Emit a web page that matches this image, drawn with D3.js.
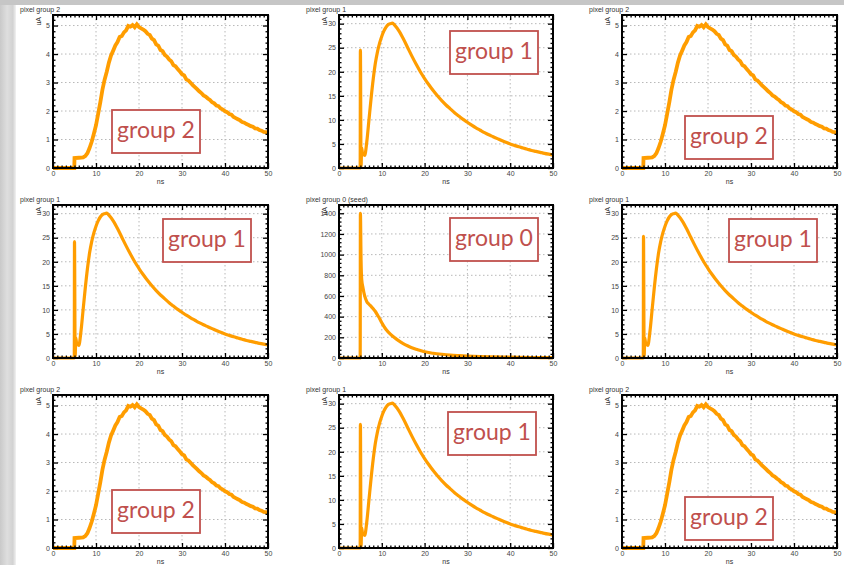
<!DOCTYPE html>
<html>
<head>
<meta charset="utf-8">
<title>pixel groups</title>
<style>
  body { margin: 0; background: #fff; }
  svg { display: block; }
</style>
</head>
<body>
<svg width="844" height="565"></svg>
<script src="https://cdn.jsdelivr.net/npm/d3@7"></script>
<script>
// ---- data ----
// group 2 (noisy histogram)
const g2Ns = [0, 4.95, 5, 6, 7, 7.5, 8, 8.5, 9, 9.5, 10, 10.5, 11, 11.5, 12, 12.5, 13, 13.5, 14, 14.5,
  15, 15.5, 16, 16.5, 17, 17.5, 18, 18.5, 19, 19.5, 20, 20.5, 21, 21.5, 22, 22.5, 23, 23.5, 24, 24.5,
  25, 25.5, 26, 26.5, 27, 27.5, 28, 28.5, 29, 29.5, 30, 30.5, 31, 31.5, 32, 32.5, 33, 33.5, 34, 34.5,
  35, 35.5, 36, 36.5, 37, 37.5, 38, 38.5, 39, 39.5, 40, 40.5, 41, 41.5, 42, 42.5, 43, 43.5, 44, 44.5,
  45, 45.5, 46, 46.5, 47, 47.5, 48, 48.5, 49, 49.5, 50];
const g2Values = [0, 0, 0.35, 0.36, 0.37, 0.42, 0.52, 0.7, 0.92, 1.2, 1.5, 1.9, 2.3, 2.75, 3.1, 3.38, 3.7, 3.95, 4.12, 4.3,
  4.42, 4.6, 4.63, 4.76, 4.83, 4.99, 4.96, 5.02, 4.94, 5.04, 4.95, 4.9, 4.86, 4.8, 4.71, 4.67, 4.54, 4.49, 4.34, 4.29,
  4.14, 4.1, 3.97, 3.91, 3.81, 3.75, 3.61, 3.57, 3.47, 3.39, 3.29, 3.25, 3.11, 3.07, 2.99, 2.91, 2.84, 2.77, 2.69, 2.63,
  2.55, 2.51, 2.44, 2.39, 2.31, 2.27, 2.19, 2.17, 2.09, 2.05, 1.99, 1.96, 1.89, 1.87, 1.79, 1.75, 1.71, 1.67, 1.61, 1.59,
  1.54, 1.51, 1.47, 1.45, 1.39, 1.38, 1.33, 1.31, 1.27, 1.26, 1.23];

// group 1 (spike value at 5 ns differs per panel)
const g1Ns = [0, 4.95, 5, 5.15, 5.3, 5.5, 6, 6.5, 7, 7.5, 8, 8.5, 9, 9.5, 10, 10.5, 11, 11.5, 12, 12.5,
  13, 14, 15, 16, 17, 18, 19, 20, 21, 22, 23, 24, 25, 26, 27, 28, 29, 30, 31, 32,
  33, 34, 35, 36, 37, 38, 39, 40, 41, 42, 43, 44, 45, 46, 47, 48, 49, 50];
const g1Values = [0, 0, null, 0.3, 4.2, 3.0, 2.6, 5.5, 10, 14.5, 18.5, 21.8, 24.2, 26, 27.4, 28.5, 29.3, 29.8, 30, 30.1,
  29.7, 28.5, 26.9, 25.1, 23.3, 21.6, 20.0, 18.6, 17.3, 16.1, 15.0, 14.0, 13.1, 12.3, 11.5, 10.8, 10.1, 9.5, 8.9, 8.35,
  7.85, 7.35, 6.9, 6.5, 6.1, 5.7, 5.35, 5.0, 4.7, 4.4, 4.15, 3.9, 3.65, 3.45, 3.25, 3.05, 2.87, 2.7];
const g1Spikes = [24.5, 24.2, 25.3, 25.7];

// group 0 (seed)
const g0Ns = [0, 4.95, 5, 5.15, 5.3, 5.6, 6, 6.5, 7, 7.5, 8, 8.5, 9, 9.5, 10, 10.5, 11, 12, 13, 14,
  15, 16, 17, 18, 19, 20, 22, 24, 26, 28, 30, 33, 36, 40, 45, 50];
const g0Values = [0, 0, 1400, 950, 760, 680, 600, 545, 520, 500, 475, 450, 415, 380, 340, 305, 275, 230, 195, 165,
  140, 118, 100, 85, 73, 60, 46, 36, 28, 23, 19, 14, 11, 8, 5, 4];

// axes
const xTicks = [0, 10, 20, 30, 40, 50];
const yTicksG2 = [0, 1, 2, 3, 4, 5];
const yTicksG1 = [0, 5, 10, 15, 20, 25, 30];
const yTicksG0 = [0, 200, 400, 600, 800, 1000, 1200, 1400];

const groupAxis = {
  2: {ticks: yTicksG2, minor: 0.2, max: 5.37},
  1: {ticks: yTicksG1, minor: 1, max: 31.8},
  0: {ticks: yTicksG0, minor: 40, max: 1480}
};

// layout of the 3x3 grid
const colLeft = [53, 339, 622], colRight = [268, 553, 837];
const rowTop = [15, 205, 395], rowBottom = [168, 358, 548];

const panels = [
  {row: 0, col: 0, title: 'pixel group 2', group: 2, box: [112, 110]},
  {row: 0, col: 1, title: 'pixel group 1', group: 1, spike: 0, box: [450, 31]},
  {row: 0, col: 2, title: 'pixel group 2', group: 2, box: [685, 116]},
  {row: 1, col: 0, title: 'pixel group 1', group: 1, spike: 1, box: [163, 219]},
  {row: 1, col: 1, title: 'pixel group 0 (seed)', group: 0, box: [450, 218]},
  {row: 1, col: 2, title: 'pixel group 1', group: 1, spike: 2, box: [729, 219]},
  {row: 2, col: 0, title: 'pixel group 2', group: 2, box: [112, 490]},
  {row: 2, col: 1, title: 'pixel group 1', group: 1, spike: 3, box: [448, 412]},
  {row: 2, col: 2, title: 'pixel group 2', group: 2, box: [685, 497]}
];

const orange = '#ff9d00';
const red = '#c0504d';

var svg = d3.select('svg');

// screenshot edges
var grad = svg.append('defs').append('linearGradient').attr('id', 'edge');
grad.append('stop').attr('offset', '0%').attr('stop-color', '#c9c9c9');
grad.append('stop').attr('offset', '45%').attr('stop-color', '#dedede');
grad.append('stop').attr('offset', '80%').attr('stop-color', '#d2d2d2');
grad.append('stop').attr('offset', '100%').attr('stop-color', '#f2f2f2');
svg.append('rect').attr('x', 0).attr('y', 0).attr('width', 16).attr('height', 565).attr('fill', 'url(#edge)');
svg.append('rect').attr('x', 0).attr('y', 0).attr('width', 844).attr('height', 5).attr('fill', '#c6c6c6');

function seriesFor(p) {
  let ns, vals;
  if (p.group == 2) { ns = g2Ns; vals = g2Values; }
  else if (p.group == 1) { ns = g1Ns; vals = g1Values.map(v => v === null ? g1Spikes[p.spike] : v); }
  else { ns = g0Ns; vals = g0Values; }
  return ns.map((n, i) => ({x: n, y: vals[i]}));
}

panels.forEach(p => {
  const left = colLeft[p.col], right = colRight[p.col];
  const top = rowTop[p.row], bottom = rowBottom[p.row];
  const ax = groupAxis[p.group];

  const x = d3.scaleLinear().domain([0, 50]).range([left, right]);
  const y = d3.scaleLinear().domain([0, ax.max]).range([bottom, top]);

  const g = svg.append('g').attr('class', 'panel');

  // dotted grid
  g.append('g').selectAll('line').data(xTicks.slice(1, -1)).join('line')
    .attr('x1', d => x(d)).attr('x2', d => x(d)).attr('y1', top).attr('y2', bottom)
    .attr('stroke', '#b8b8b8').attr('stroke-width', 1).attr('stroke-dasharray', '1.5,2.5');
  g.append('g').selectAll('line').data(ax.ticks.slice(1)).join('line')
    .attr('x1', left).attr('x2', right).attr('y1', d => y(d)).attr('y2', d => y(d))
    .attr('stroke', '#b8b8b8').attr('stroke-width', 1).attr('stroke-dasharray', '1.5,2.5');

  // curve
  const line = d3.line().x(d => x(d.x)).y(d => y(d.y))
    .curve(p.group == 2 ? d3.curveLinear : d3.curveMonotoneX);
  g.append('path').datum(seriesFor(p))
    .attr('d', line).attr('fill', 'none')
    .attr('stroke', orange).attr('stroke-width', p.group == 2 ? 3.8 : 3.2)
    .attr('stroke-linejoin', 'miter');

  // ticks on all four sides
  const xMinor = d3.range(0, 50.001, 1).filter(v => v % 10 != 0);
  const yMinor = d3.range(0, ax.max, ax.minor).filter(v => !ax.ticks.some(t => Math.abs(t - v) < 1e-6));

  const fmt = d3.format('d');
  g.append('g').attr('transform', `translate(0,${bottom})`)
    .call(d3.axisBottom(x).tickValues(xTicks).tickSize(-5).tickPadding(3).tickFormat(fmt));
  g.append('g').attr('transform', `translate(0,${bottom})`)
    .call(d3.axisBottom(x).tickValues(xMinor).tickSize(-2.5).tickFormat(''));
  g.append('g').attr('transform', `translate(0,${top})`)
    .call(d3.axisTop(x).tickValues(xTicks).tickSize(-5).tickFormat(''));
  g.append('g').attr('transform', `translate(0,${top})`)
    .call(d3.axisTop(x).tickValues(xMinor).tickSize(-2.5).tickFormat(''));
  g.append('g').attr('transform', `translate(${left},0)`)
    .call(d3.axisLeft(y).tickValues(ax.ticks).tickSize(-5).tickPadding(3).tickFormat(fmt));
  g.append('g').attr('transform', `translate(${left},0)`)
    .call(d3.axisLeft(y).tickValues(yMinor).tickSize(-2.5).tickFormat(''));
  g.append('g').attr('transform', `translate(${right},0)`)
    .call(d3.axisRight(y).tickValues(ax.ticks).tickSize(-5).tickFormat(''));
  g.append('g').attr('transform', `translate(${right},0)`)
    .call(d3.axisRight(y).tickValues(yMinor).tickSize(-2.5).tickFormat(''));

  g.selectAll('.domain').remove();
  g.selectAll('.tick line').attr('stroke', '#000').attr('stroke-width', 1.3);
  g.selectAll('.tick text').attr('fill', '#444')
    .style('font-family', 'Liberation Sans, Arial, sans-serif').style('font-size', '7px');

  // frame
  g.append('rect').attr('x', left).attr('y', top)
    .attr('width', right - left).attr('height', bottom - top)
    .attr('fill', 'none').attr('stroke', '#000').attr('stroke-width', 2);

  // titles
  g.append('text').attr('x', left - 33).attr('y', top - 3)
    .attr('font-family', 'Liberation Sans, Arial, sans-serif').attr('font-size', 7)
    .attr('fill', '#333').text(p.title);
  g.append('text').attr('transform', `translate(${left - 12},${top + 2}) rotate(-90)`)
    .attr('text-anchor', 'end')
    .attr('font-family', 'Liberation Sans, Arial, sans-serif').attr('font-size', 7)
    .attr('fill', '#333').text('uA');
  g.append('text').attr('x', (left + right) / 2).attr('y', bottom + 16)
    .attr('text-anchor', 'middle')
    .attr('font-family', 'Liberation Sans, Arial, sans-serif').attr('font-size', 7)
    .attr('fill', '#333').text('ns');

  // group label
  const bx = p.box[0], by = p.box[1];
  g.append('rect').attr('x', bx).attr('y', by).attr('width', 88).attr('height', 43)
    .attr('fill', '#fff').attr('stroke', red).attr('stroke-width', 1.8);
  g.append('text').attr('x', bx + 44).attr('y', by + 28)
    .attr('text-anchor', 'middle')
    .attr('font-family', 'Lato, Open Sans, sans-serif').attr('font-size', 23)
    .attr('fill', red).text('group ' + p.group);
});
</script>
</body>
</html>
